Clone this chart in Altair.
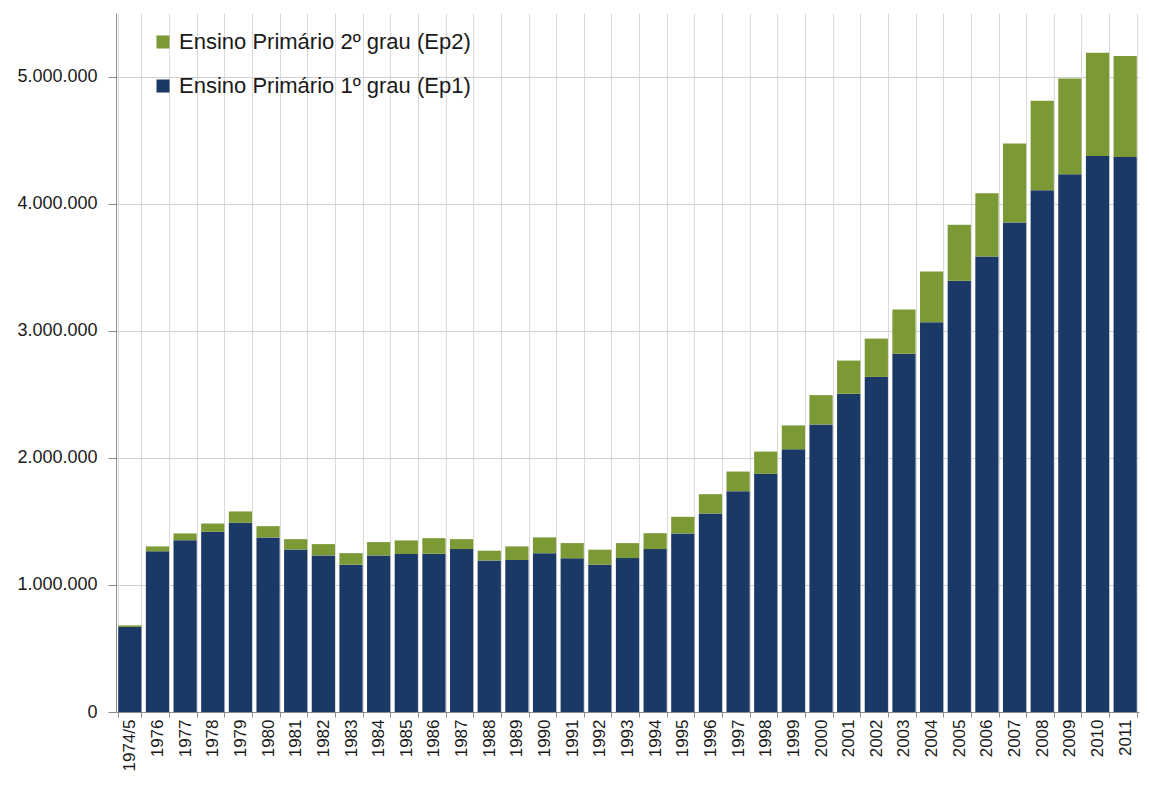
import altair as alt
import pandas as pd

categories = ["1974/5", "1976", "1977", "1978", "1979", "1980", "1981", "1982", "1983",
              "1984", "1985", "1986", "1987", "1988", "1989", "1990", "1991", "1992",
              "1993", "1994", "1995", "1996", "1997", "1998", "1999", "2000", "2001",
              "2002", "2003", "2004", "2005", "2006", "2007", "2008", "2009", "2010", "2011"]

ep1 = [670000, 1264000, 1352000, 1418000, 1489000, 1374000, 1279000, 1232000, 1159000,
       1232000, 1243000, 1245000, 1282000, 1193000, 1196000, 1250000, 1209000, 1159000,
       1211000, 1282000, 1405000, 1562000, 1737000, 1874000, 2067000, 2263000, 2504000,
       2637000, 2818000, 3066000, 3393000, 3584000, 3851000, 4105000, 4231000, 4374000, 4366000]

ep2 = [12000, 39000, 53000, 65000, 89000, 88000, 81000, 89000, 91000,
       105000, 107000, 123000, 78000, 76000, 107000, 124000, 120000, 118000,
       118000, 125000, 131000, 152000, 155000, 175000, 188000, 230000, 261000,
       301000, 350000, 401000, 440000, 498000, 623000, 704000, 753000, 814000, 796000]

series_names = ["Ensino Primário 2º grau (Ep2)", "Ensino Primário 1º grau (Ep1)"]
series_colors = ["#7b9a35", "#1b3966"]
y_ticks = [0, 1000000, 2000000, 3000000, 4000000, 5000000]

rows = []
for c, a, b in zip(categories, ep1, ep2):
    rows.append({"ano": c, "serie": series_names[1], "valor": a, "ord": 0})
    rows.append({"ano": c, "serie": series_names[0], "valor": b, "ord": 1})
df = pd.DataFrame(rows)

FONT = "Liberation Sans"

chart = alt.Chart(df).mark_bar().encode(
    x=alt.X("ano:N", sort=categories,
            scale=alt.Scale(paddingInner=0.16, paddingOuter=0.08),
            axis=alt.Axis(title=None, labelAngle=270, tickBand="extent", grid=True,
                          gridColor="#dadada", gridWidth=1,
                          domainColor="#8c8c8c", tickColor="#8c8c8c", tickSize=5,
                          labelFontSize=17, labelPadding=2, labelColor="#1a1a1a",
                          labelFont=FONT)),
    y=alt.Y("valor:Q", stack="zero",
            scale=alt.Scale(domain=[0, 5500000], nice=False),
            axis=alt.Axis(title=None, values=y_ticks,
                          labelExpr="replace(format(datum.value, ','), /,/g, '.')",
                          grid=True, gridColor="#cfcfcf", gridWidth=1,
                          domainColor="#8c8c8c", tickColor="#8c8c8c", tickSize=8,
                          labelPadding=11, labelFontSize=18, labelColor="#1a1a1a",
                          labelFont=FONT)),
    color=alt.Color("serie:N",
                    scale=alt.Scale(domain=series_names, range=series_colors),
                    legend=alt.Legend(title=None, orient="none", legendX=36, legendY=18,
                                      symbolType="square", symbolSize=170,
                                      symbolStrokeWidth=0, labelFontSize=22,
                                      labelFont=FONT, labelColor="#1a1a1a",
                                      labelOffset=5, rowPadding=22, padding=0,
                                      labelLimit=600)),
    order=alt.Order("ord:Q", sort="ascending"),
).properties(
    width=1023,
    height=699,
    padding={"left": 108, "top": 5, "right": 2, "bottom": 61},
    autosize=alt.AutoSizeParams(type="none"),
).configure_view(stroke=None)

chart.save("out.html", embed_options={"renderer": "svg", "actions": False})
